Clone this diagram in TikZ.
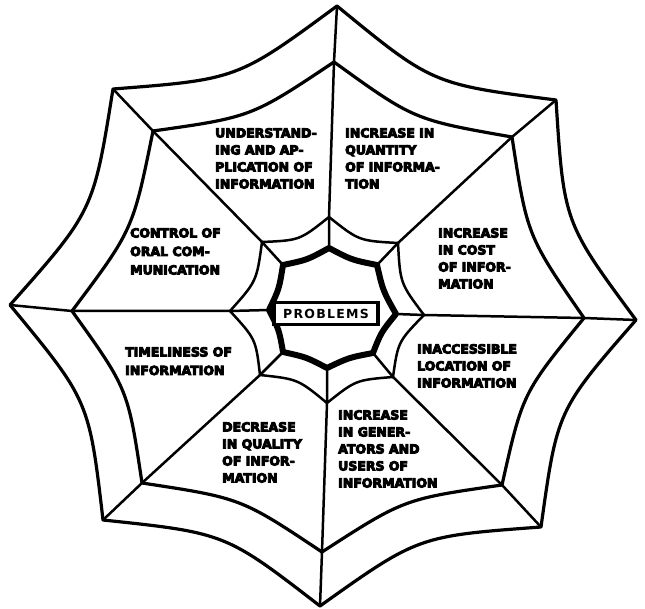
\documentclass[tikz,border=0pt]{standalone}
\usepackage{fontspec}
\newfontfamily\webfont{DejaVu Sans}
\usetikzlibrary{calc}
\newcommand\webring[3]{%
  \draw[#3] (#10) \foreach \a/\b in {0/1,1/2,2/3,3/4,4/5,5/6,6/7,7/0}{ .. controls ($ ($(#1\a)!0.5!(#1\b)$)!#2!(O) $) .. (#1\b) } -- cycle;}
\newcommand\heavyon{\special{pdf:literal direct 2 Tr 0.9 w}}
\newcommand\heavyoff{\special{pdf:literal direct 0 Tr}}
\begin{document}
\begin{tikzpicture}[x=1pt,y=-1pt,
  spoke/.style={line width=2.5pt,line join=round},
  ringline/.style={line width=3.2pt,line join=round},
  thickring/.style={line width=6pt,line join=round},
  lbl/.style={anchor=north west,inner sep=0pt,align=left,
    execute at begin node=\heavyon, execute at end node=\heavyoff,
    font=\webfont\bfseries\fontsize{12.5}{17}\selectfont},
  lblwide/.style={lbl,font=\webfont\bfseries\fontsize{12.5}{18.5}\selectfont},
  probbox/.style={draw,line width=3.2pt,minimum width=104pt,minimum height=22pt,
    inner sep=0pt,fill=white,font=\webfont\bfseries\addfontfeatures{LetterSpace=10}\fontsize{12.5}{13}\selectfont}]
\useasboundingbox (0,0) rectangle (645,609);
\fill[white] (0,0) rectangle (645,609);
\coordinate (O) at (328,313);
% outer ring
\coordinate (o0) at (337,6);
\coordinate (o1) at (556,100);
\coordinate (o2) at (636,320);
\coordinate (o3) at (541,527);
\coordinate (o4) at (320,606);
\coordinate (o5) at (103,520);
\coordinate (o6) at (10,305);
\coordinate (o7) at (113,89);
% middle ring
\coordinate (m0) at (334,62);
\coordinate (m1) at (512,137);
\coordinate (m2) at (584,318);
\coordinate (m3) at (502,485);
\coordinate (m4) at (322,552);
\coordinate (m5) at (142,483);
\coordinate (m6) at (72,311);
\coordinate (m7) at (153,131);
% third ring
\coordinate (t0) at (329,217);
\coordinate (t1) at (398,243);
\coordinate (t2) at (424,315);
\coordinate (t3) at (393,377);
\coordinate (t4) at (327,403);
\coordinate (t5) at (260,375);
\coordinate (t6) at (230,311);
\coordinate (t7) at (262,242);
% thick ring
\coordinate (k0) at (329,248);
\coordinate (k1) at (377,265);
\coordinate (k2) at (396,314);
\coordinate (k3) at (373,353);
\coordinate (k4) at (327,368);
\coordinate (k5) at (283,352);
\coordinate (k6) at (269,310);
\coordinate (k7) at (283,265);
% spokes
\foreach \i in {0,...,7}{\draw[spoke] (k\i) -- (t\i) -- (m\i) -- (o\i);}
% rings
\webring{o}{0.12}{ringline}
\webring{m}{0.095}{ringline}
\webring{t}{0.13}{spoke}
\webring{k}{0.06}{thickring}
% centre
\node[probbox] (prob) at (326,313.5) {PROBLEMS};
% labels
\node[lbl] (n1) at (215,128) {UNDERSTAND-\\ING AND AP-\\PLICATION OF\\INFORMATION};
\node[lbl] (n2) at (345,128) {INCREASE IN\\QUANTITY\\OF INFORMA-\\TION};
\node[lblwide] (n3) at (130,228) {CONTROL OF\\ORAL COM-\\MUNICATION};
\node[lbl] (n4) at (438,228) {INCREASE\\IN COST\\OF INFOR-\\MATION};
\node[lblwide] (n5) at (125,347) {TIMELINESS OF\\INFORMATION};
\node[lbl] (n6) at (417,344) {INACCESSIBLE\\LOCATION OF\\INFORMATION};
\node[lbl] (n7) at (222,422) {DECREASE\\IN QUALITY\\OF INFOR-\\MATION};
\node[lbl] (n8) at (338,410) {INCREASE\\IN GENER-\\ATORS AND\\USERS OF\\INFORMATION};
\end{tikzpicture}
\end{document}
